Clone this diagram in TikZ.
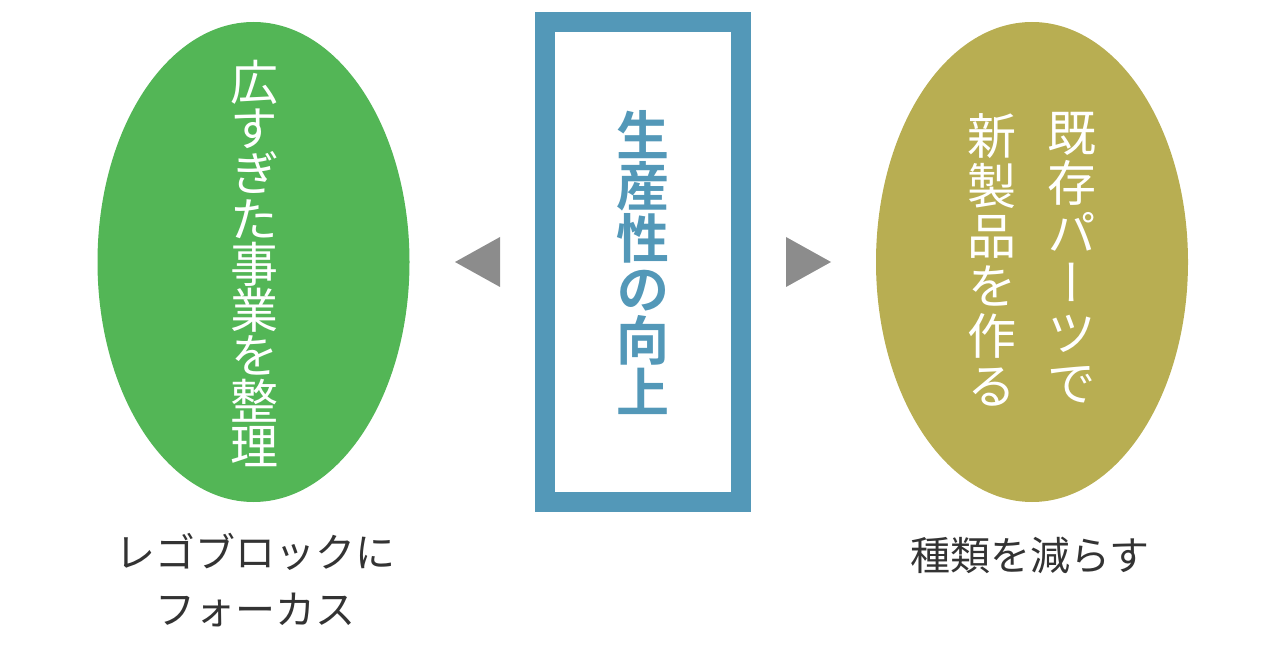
\documentclass[tikz,border=0pt]{standalone}
\usepackage{fontspec}
\newfontfamily\jp{Noto Sans CJK JP}
\newfontfamily\jpv{Noto Sans CJK JP}[RawFeature=+vert]
\newfontfamily\jpvb{Noto Sans CJK JP Bold}[RawFeature=+vert]
\definecolor{cgreen}{HTML}{53B656}
\definecolor{colive}{HTML}{B8AE52}
\definecolor{cblue}{HTML}{5398B8}
\definecolor{cgray}{HTML}{8C8C8C}
\definecolor{ctext}{HTML}{333333}
\tikzset{
  oval/.style={draw=none, ellipse, minimum width=312pt, minimum height=480pt, inner sep=0pt},
  vtext/.style={anchor=north, inner sep=0pt, align=center, text=white},
  captxt/.style={inner sep=0pt, align=center, text=ctext, font=\jp\fontsize{40}{57}\selectfont},
  tri/.style={fill=cgray, draw=none},
}
\usetikzlibrary{shapes.geometric}
\begin{document}
\begin{tikzpicture}[x=1pt, y=-1pt]
\useasboundingbox (0,0) rectangle (1280,660);
% left ellipse
\node[oval, fill=cgreen] (L) at (253.5,262) {};
\node[vtext, font=\jpv\fontsize{48}{45.5}\selectfont] (Lt) at (254,60)
  {広\\す\\ぎ\\た\\事\\業\\を\\整\\理};
% right ellipse
\node[oval, fill=colive] (R) at (1032,262) {};
\node[vtext, font=\jpv\fontsize{49}{50}\selectfont] (Rt1) at (1072,112)
  {既\\存\\パ\\ー\\ツ\\で};
\node[vtext, font=\jpv\fontsize{49}{50}\selectfont] (Rt2) at (992,113)
  {新\\製\\品\\を\\作\\る};
% center box
\draw[cblue, line width=20pt] (545,22) rectangle (741,502);
\node[vtext, text=cblue, font=\jpvb\fontsize{53}{51.4}\selectfont] (Ct) at (642.5,110)
  {生\\産\\性\\の\\向\\上};
% triangles
\coordinate (lt) at (455,262);
\fill[tri] (lt) -- (500,237) -- (500,287) -- cycle;
\coordinate (rt) at (831,262);
\fill[tri] (rt) -- (786,237) -- (786,287) -- cycle;
% captions
\node[captxt] (Lc) at (255,580) {レゴブロックに\\フォーカス};
\node[captxt] (Rc) at (1030,555) {種類を減らす};
\end{tikzpicture}
\end{document}
